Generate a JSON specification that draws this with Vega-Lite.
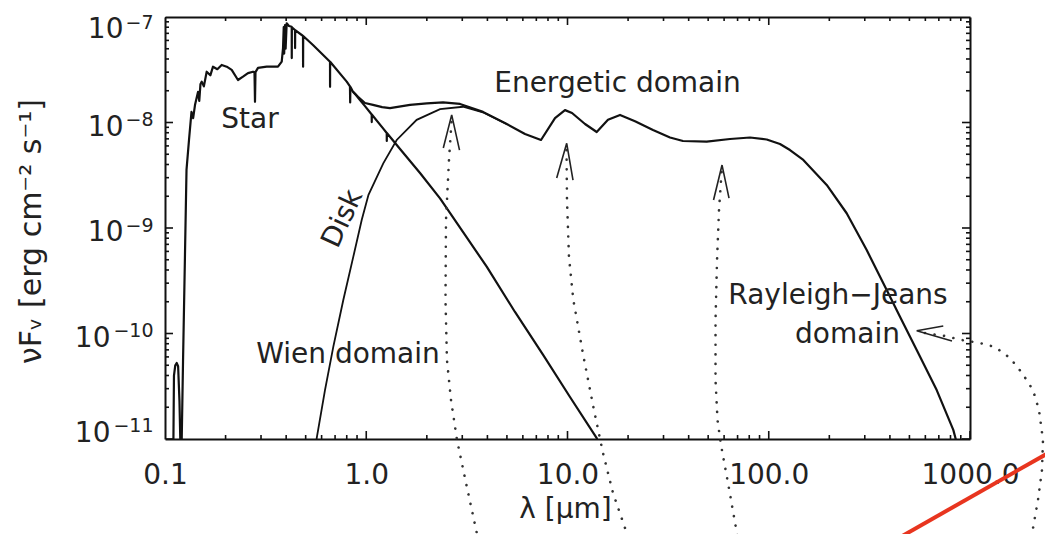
{
  "$schema": "https://vega.github.io/schema/vega-lite/v6.json",
  "autosize": "none",
  "width": 805,
  "height": 422,
  "padding": {"left": 165, "top": 17, "right": 75, "bottom": 95},
  "background": "white",
  "config": {
    "view": {"stroke": null},
    "axis": {"grid": false, "domainColor": "#111", "tickColor": "#111", "labelColor": "#222", "titleColor": "#222",
             "labelFont": "DejaVu Sans", "titleFont": "DejaVu Sans", "titleFontWeight": "normal", "labelFontSize": 28, "titleFontSize": 28,
             "labelOverlap": false, "labelBound": false, "labelFlush": false, "tickWidth": 1.6, "domainWidth": 2}
  },
  "datasets": {
    "curves": [
      {"s":"star","i":1,"x":0.1090,"y":1e-12},{"s":"star","i":2,"x":0.1108,"y":3.98e-11},{"s":"star","i":3,"x":0.1125,"y":5.0e-11},
      {"s":"star","i":4,"x":0.1143,"y":5.25e-11},{"s":"star","i":5,"x":0.1162,"y":4.9e-11},{"s":"star","i":6,"x":0.1180,"y":2.3e-11},
      {"s":"star","i":7,"x":0.1191,"y":1.0e-11},{"s":"star","i":8,"x":0.1200,"y":1e-13},{"s":"star","i":9,"x":0.1211,"y":1.0e-11},
      {"s":"star","i":10,"x":0.1229,"y":5.4e-11},{"s":"star","i":11,"x":0.1256,"y":5.2e-10},{"s":"star","i":12,"x":0.1279,"y":3.55e-9},
      {"s":"star","i":13,"x":0.1316,"y":6.83e-9},{"s":"star","i":14,"x":0.1354,"y":1.26e-8},{"s":"star","i":15,"x":0.1380,"y":1.1e-8},
      {"s":"star","i":16,"x":0.1410,"y":1.47e-8},{"s":"star","i":17,"x":0.1459,"y":1.95e-8},{"s":"star","i":18,"x":0.1480,"y":1.6e-8},
      {"s":"star","i":19,"x":0.1500,"y":2.3e-8},{"s":"star","i":20,"x":0.1522,"y":2.44e-8},{"s":"star","i":21,"x":0.1560,"y":2.2e-8},
      {"s":"star","i":22,"x":0.1611,"y":3.03e-8},{"s":"star","i":23,"x":0.1680,"y":2.8e-8},{"s":"star","i":24,"x":0.1732,"y":3.38e-8},
      {"s":"star","i":25,"x":0.1820,"y":3.2e-8},{"s":"star","i":26,"x":0.1913,"y":3.51e-8},{"s":"star","i":27,"x":0.2026,"y":3.38e-8},
      {"s":"star","i":28,"x":0.2145,"y":3.15e-8},{"s":"star","i":29,"x":0.2305,"y":2.53e-8},{"s":"star","i":30,"x":0.2441,"y":2.72e-8},
      {"s":"star","i":31,"x":0.2585,"y":2.94e-8},{"s":"star","i":32,"x":0.2737,"y":3.03e-8},{"s":"star","i":33,"x":0.2784,"y":3.0e-8},
      {"s":"star","i":34,"x":0.2800,"y":1.57e-8},{"s":"star","i":35,"x":0.2816,"y":3.0e-8},{"s":"star","i":36,"x":0.2898,"y":3.29e-8},
      {"s":"star","i":37,"x":0.3202,"y":3.38e-8},{"s":"star","i":38,"x":0.3642,"y":3.38e-8},{"s":"star","i":39,"x":0.3802,"y":3.77e-8},
      {"s":"star","i":40,"x":0.3859,"y":5.08e-8},{"s":"star","i":41,"x":0.3890,"y":8.0e-8},{"s":"star","i":42,"x":0.3910,"y":4.5e-8},
      {"s":"star","i":43,"x":0.3947,"y":8.39e-8},{"s":"star","i":44,"x":0.3975,"y":5.0e-8},{"s":"star","i":45,"x":0.4024,"y":8.71e-8},
      {"s":"star","i":46,"x":0.4131,"y":8.22e-8},{"s":"star","i":47,"x":0.4262,"y":8.09e-8},{"s":"star","i":48,"x":0.4265,"y":4.08e-8},
      {"s":"star","i":49,"x":0.4270,"y":8.0e-8},{"s":"star","i":50,"x":0.4426,"y":7.53e-8},{"s":"star","i":51,"x":0.4430,"y":5.08e-8},
      {"s":"star","i":52,"x":0.4435,"y":7.5e-8},{"s":"star","i":53,"x":0.4779,"y":6.75e-8},{"s":"star","i":54,"x":0.4850,"y":6.61e-8},
      {"s":"star","i":55,"x":0.4855,"y":3.38e-8},{"s":"star","i":56,"x":0.4860,"y":6.6e-8},{"s":"star","i":57,"x":0.5436,"y":5.43e-8},
      {"s":"star","i":58,"x":0.6606,"y":3.77e-8},{"s":"star","i":59,"x":0.6610,"y":2.18e-8},{"s":"star","i":60,"x":0.6615,"y":3.76e-8},
      {"s":"star","i":61,"x":0.7997,"y":2.44e-8},{"s":"star","i":62,"x":0.8300,"y":2.2e-8},{"s":"star","i":63,"x":0.8320,"y":1.55e-8},
      {"s":"star","i":64,"x":0.8340,"y":2.18e-8},{"s":"star","i":65,"x":0.8594,"y":1.96e-8},{"s":"star","i":66,"x":0.8894,"y":1.82e-8},
      {"s":"star","i":67,"x":0.9308,"y":1.63e-8},{"s":"star","i":68,"x":0.9857,"y":1.43e-8},{"s":"star","i":69,"x":1.0644,"y":1.19e-8},
      {"s":"star","i":70,"x":1.0650,"y":1.01e-8},{"s":"star","i":71,"x":1.0656,"y":1.19e-8},{"s":"star","i":72,"x":1.215,"y":8.75e-9},
      {"s":"star","i":73,"x":1.264,"y":7.95e-9},{"s":"star","i":74,"x":1.265,"y":6.68e-9},{"s":"star","i":75,"x":1.266,"y":7.95e-9},
      {"s":"star","i":76,"x":1.472,"y":5.61e-9},{"s":"star","i":77,"x":1.850,"y":3.32e-9},{"s":"star","i":78,"x":2.326,"y":1.91e-9},
      {"s":"star","i":79,"x":3.095,"y":8.59e-10},{"s":"star","i":80,"x":3.968,"y":4.30e-10},{"s":"star","i":81,"x":5.484,"y":1.60e-10},
      {"s":"star","i":82,"x":7.58,"y":6.25e-11},{"s":"star","i":83,"x":10.29,"y":2.50e-11},{"s":"star","i":84,"x":13.97,"y":1.02e-11},
      {"s":"star","i":85,"x":14.5,"y":8e-12},
      {"s":"total","i":1,"x":0.8594,"y":1.96e-8},{"s":"total","i":2,"x":0.9099,"y":1.75e-8},{"s":"total","i":3,"x":0.9857,"y":1.53e-8},
      {"s":"total","i":4,"x":1.080,"y":1.47e-8},{"s":"total","i":5,"x":1.200,"y":1.40e-8},{"s":"total","i":6,"x":1.312,"y":1.37e-8},
      {"s":"total","i":7,"x":1.650,"y":1.47e-8},{"s":"total","i":8,"x":2.000,"y":1.52e-8},{"s":"total","i":9,"x":2.407,"y":1.55e-8},
      {"s":"total","i":10,"x":2.923,"y":1.50e-8},{"s":"total","i":11,"x":3.803,"y":1.26e-8},{"s":"total","i":12,"x":4.988,"y":9.68e-9},
      {"s":"total","i":13,"x":6.150,"y":7.78e-9},{"s":"total","i":14,"x":7.385,"y":6.83e-9},{"s":"total","i":15,"x":8.668,"y":1.10e-8},
      {"s":"total","i":16,"x":9.718,"y":1.31e-8},{"s":"total","i":17,"x":10.53,"y":1.23e-8},{"s":"total","i":18,"x":12.22,"y":9.68e-9},
      {"s":"total","i":19,"x":13.97,"y":8.13e-9},{"s":"total","i":20,"x":15.89,"y":1.06e-8},{"s":"total","i":21,"x":18.24,"y":1.18e-8},
      {"s":"total","i":22,"x":21.65,"y":1.03e-8},{"s":"total","i":23,"x":26.60,"y":8.49e-9},{"s":"total","i":24,"x":32.31,"y":7.21e-9},
      {"s":"total","i":25,"x":37.48,"y":6.68e-9},{"s":"total","i":26,"x":49.17,"y":6.58e-9},{"s":"total","i":27,"x":64.2,"y":6.98e-9},
      {"s":"total","i":28,"x":80.7,"y":7.21e-9},{"s":"total","i":29,"x":97.7,"y":6.90e-9},{"s":"total","i":30,"x":113.7,"y":6.25e-9},
      {"s":"total","i":31,"x":127.5,"y":5.48e-9},{"s":"total","i":32,"x":148.5,"y":4.42e-9},{"s":"total","i":33,"x":194.1,"y":2.56e-9},
      {"s":"total","i":34,"x":243.9,"y":1.38e-9},{"s":"total","i":35,"x":306.7,"y":6.18e-10},{"s":"total","i":36,"x":385.6,"y":2.58e-10},
      {"s":"total","i":37,"x":448.9,"y":1.44e-10},{"s":"total","i":38,"x":543.5,"y":6.98e-11},{"s":"total","i":39,"x":683.2,"y":2.91e-11},
      {"s":"total","i":40,"x":826.0,"y":1.22e-11},{"s":"total","i":41,"x":861.7,"y":9e-12}
    ],
    "disk": [
      {"i":1,"x":0.5596,"y":8e-12},{"i":2,"x":0.5674,"y":1.02e-11},{"i":3,"x":0.6237,"y":2.91e-11},{"i":4,"x":0.6862,"y":7.50e-11},
      {"i":5,"x":0.7691,"y":2.08e-10},{"i":6,"x":0.8625,"y":5.35e-10},{"i":7,"x":0.9493,"y":1.19e-9},{"i":8,"x":1.026,"y":2.06e-9},
      {"i":9,"x":1.215,"y":4.10e-9},{"i":10,"x":1.417,"y":6.83e-9},{"i":11,"x":1.781,"y":1.06e-8},{"i":12,"x":2.326,"y":1.34e-8},
      {"i":13,"x":3.025,"y":1.41e-8},{"i":14,"x":3.803,"y":1.25e-8},{"i":15,"x":4.988,"y":9.68e-9}
    ],
    "dots": [
      {"a":"a1","i":1,"x":2.652,"y":1.01e-8},{"a":"a1","i":2,"x":2.577,"y":4.42e-9},{"a":"a1","i":3,"x":2.490,"y":1.19e-9},
      {"a":"a1","i":4,"x":2.476,"y":2.08e-10},{"a":"a1","i":5,"x":2.518,"y":5.61e-11},{"a":"a1","i":6,"x":2.637,"y":2.34e-11},
      {"a":"a1","i":7,"x":2.824,"y":9.80e-12},{"a":"a1","i":8,"x":3.131,"y":3.83e-12},{"a":"a1","i":9,"x":3.550,"y":1.26e-12},
      {"a":"a1","i":10,"x":3.632,"y":9.9e-13},
      {"a":"a2","i":1,"x":9.886,"y":5.48e-9},{"a":"a2","i":2,"x":9.943,"y":1.84e-9},{"a":"a2","i":3,"x":10.17,"y":5.31e-10},
      {"a":"a2","i":4,"x":10.69,"y":2.08e-10},{"a":"a2","i":5,"x":11.94,"y":6.40e-11},{"a":"a2","i":6,"x":13.54,"y":1.88e-11},
      {"a":"a2","i":7,"x":15.01,"y":7.36e-12},{"a":"a2","i":8,"x":16.83,"y":3.08e-12},{"a":"a2","i":9,"x":19.76,"y":1.26e-12},
      {"a":"a2","i":10,"x":20.68,"y":9.9e-13},
      {"a":"a3","i":1,"x":58.3,"y":3.39e-9},{"a":"a3","i":2,"x":56.6,"y":1.48e-9},{"a":"a3","i":3,"x":55.34,"y":4.98e-10},
      {"a":"a3","i":4,"x":54.39,"y":1.34e-10},{"a":"a3","i":5,"x":54.39,"y":3.62e-11},{"a":"a3","i":6,"x":55.65,"y":1.51e-11},
      {"a":"a3","i":7,"x":57.91,"y":8.77e-12},{"a":"a3","i":8,"x":62.74,"y":3.83e-12},{"a":"a3","i":9,"x":69.55,"y":1.26e-12},
      {"a":"a3","i":10,"x":71.97,"y":9.9e-13},
      {"a":"a4","i":1,"x":597.6,"y":1.01e-10},{"a":"a4","i":2,"x":751.1,"y":9.46e-11},{"a":"a4","i":3,"x":912.5,"y":8.67e-11},
      {"a":"a4","i":4,"x":1121,"y":8.12e-11},{"a":"a4","i":5,"x":1331,"y":7.45e-11},{"a":"a4","i":6,"x":1581,"y":5.86e-11},
      {"a":"a4","i":7,"x":1813,"y":4.23e-11},{"a":"a4","i":8,"x":2056,"y":2.91e-11},{"a":"a4","i":9,"x":2202,"y":1.88e-11},
      {"a":"a4","i":10,"x":2305,"y":9.80e-12},{"a":"a4","i":11,"x":2279,"y":5.08e-12},{"a":"a4","i":12,"x":2177,"y":2.64e-12},
      {"a":"a4","i":13,"x":2033,"y":1.26e-12},{"a":"a4","i":14,"x":1990,"y":9.9e-13}
    ],
    "heads": [
      {"a":"h1","i":1,"x":2.415,"y":5.73e-9},{"a":"h1","i":2,"x":2.658,"y":1.18e-8},{"a":"h1","i":3,"x":2.907,"y":5.48e-9},
      {"a":"h2","i":1,"x":8.837,"y":2.98e-9},{"a":"h2","i":2,"x":9.909,"y":6.35e-9},{"a":"h2","i":3,"x":10.65,"y":2.85e-9},
      {"a":"h3","i":1,"x":53.17,"y":1.84e-9},{"a":"h3","i":2,"x":58.6,"y":3.95e-9},{"a":"h3","i":3,"x":63.47,"y":1.92e-9},
      {"a":"h4","i":1,"x":736.6,"y":1.18e-10},{"a":"h4","i":2,"x":543.5,"y":1.06e-10},{"a":"h4","i":3,"x":813.9,"y":8.49e-11}
    ],
    "red": [
      {"i":1,"x":424.0,"y":1.10e-12},{"i":2,"x":2497,"y":7.53e-12}
    ],
    "labels": [
      {"t":"Star","x":0.2645,"y":8.81e-9},
      {"t":"Energetic domain","x":17.72,"y":1.96e-8},
      {"t":"Wien domain","x":0.8114,"y":5.25e-11},
      {"t":"Rayleigh−Jeans","x":220.9,"y":1.91e-10},
      {"t":"domain","x":246.2,"y":8.07e-11}
    ],
    "disklabel": [
      {"t":"Disk","x":0.7665,"y":1.22e-9}
    ],
    "xticks": [
      {"v":0.1,"k":"major"},{"v":1,"k":"major"},{"v":10,"k":"major"},{"v":100,"k":"major"},{"v":1000,"k":"major"},
      {"v":0.2,"k":"minor"},{"v":0.3,"k":"minor"},{"v":0.4,"k":"minor"},{"v":0.5,"k":"minor"},{"v":0.6,"k":"minor"},{"v":0.7,"k":"minor"},{"v":0.8,"k":"minor"},{"v":0.9,"k":"minor"},
      {"v":2,"k":"minor"},{"v":3,"k":"minor"},{"v":4,"k":"minor"},{"v":5,"k":"minor"},{"v":6,"k":"minor"},{"v":7,"k":"minor"},{"v":8,"k":"minor"},{"v":9,"k":"minor"},
      {"v":20,"k":"minor"},{"v":30,"k":"minor"},{"v":40,"k":"minor"},{"v":50,"k":"minor"},{"v":60,"k":"minor"},{"v":70,"k":"minor"},{"v":80,"k":"minor"},{"v":90,"k":"minor"},
      {"v":200,"k":"minor"},{"v":300,"k":"minor"},{"v":400,"k":"minor"},{"v":500,"k":"minor"},{"v":600,"k":"minor"},{"v":700,"k":"minor"},{"v":800,"k":"minor"},{"v":900,"k":"minor"}
    ],
    "yticks": [
      {"v":1e-11,"k":"major"},{"v":1e-10,"k":"major"},{"v":1e-9,"k":"major"},{"v":1e-8,"k":"major"},{"v":1e-7,"k":"major"},
      {"v":2e-11,"k":"minor"},{"v":3e-11,"k":"minor"},{"v":4e-11,"k":"minor"},{"v":5e-11,"k":"minor"},{"v":6e-11,"k":"minor"},{"v":7e-11,"k":"minor"},{"v":8e-11,"k":"minor"},{"v":9e-11,"k":"minor"},
      {"v":2e-10,"k":"minor"},{"v":3e-10,"k":"minor"},{"v":4e-10,"k":"minor"},{"v":5e-10,"k":"minor"},{"v":6e-10,"k":"minor"},{"v":7e-10,"k":"minor"},{"v":8e-10,"k":"minor"},{"v":9e-10,"k":"minor"},
      {"v":2e-9,"k":"minor"},{"v":3e-9,"k":"minor"},{"v":4e-9,"k":"minor"},{"v":5e-9,"k":"minor"},{"v":6e-9,"k":"minor"},{"v":7e-9,"k":"minor"},{"v":8e-9,"k":"minor"},{"v":9e-9,"k":"minor"},
      {"v":2e-8,"k":"minor"},{"v":3e-8,"k":"minor"},{"v":4e-8,"k":"minor"},{"v":5e-8,"k":"minor"},{"v":6e-8,"k":"minor"},{"v":7e-8,"k":"minor"},{"v":8e-8,"k":"minor"},{"v":9e-8,"k":"minor"}
    ]
  },
  "resolve": {"axis": {"x": "independent", "y": "independent"}},
  "layer": [
    {
      "data": {"name": "curves"},
      "mark": {"type": "line", "color": "#111", "strokeWidth": 2.2, "clip": true, "strokeJoin": "round"},
      "encoding": {
        "x": {"field": "x", "type": "quantitative", "scale": {"type": "log", "domain": [0.1, 1000], "nice": false},
              "axis": {"orient": "bottom", "values": [0.1, 1, 10, 100, 1000], "ticks": false, "tickSize": 0, "domain": true,
                       "labelExpr": "datum.value < 0.5 ? '0.1' : datum.value < 5 ? '1.0' : datum.value < 50 ? '10.0' : datum.value < 500 ? '100.0' : '1000.0'",
                       "labelBaseline": "alphabetic", "labelPadding": 44, "labelAlign": "center",
                       "title": "λ [μm]", "titleX": 400, "titleY": 78, "titleBaseline": "alphabetic", "titleAlign": "center"}},
        "y": {"field": "y", "type": "quantitative", "scale": {"type": "log", "domain": [1e-11, 1e-7], "nice": false},
              "axis": {"orient": "left", "values": [1e-11, 1e-10, 1e-9, 1e-8, 1e-7], "ticks": false, "tickSize": 0, "domain": true,
                       "labelExpr": "'10'", "labelBaseline": "middle", "labelAlign": "right",
                       "labelPadding": {"condition": {"test": "datum.value < 5e-10", "value": 55}, "value": 42},
                       "labelOffset": {"condition": [{"test": "datum.value > 5e-8", "value": 12.6}, {"test": "datum.value < 5e-11", "value": -6}], "value": 4.5},
                       "title": "νFᵥ [erg cm⁻² s⁻¹]", "titleFontSize": 30, "titleX": -125, "titleY": 214, "titleAngle": -90, "titleBaseline": "alphabetic", "titleAlign": "center"}},
        "detail": {"field": "s"},
        "order": {"field": "i", "type": "quantitative"}
      }
    },
    {
      "data": {"name": "disk"},
      "mark": {"type": "line", "color": "#111", "strokeWidth": 1.8, "clip": true},
      "encoding": {
        "x": {"field": "x", "type": "quantitative", "scale": {"type": "log", "domain": [0.1, 1000], "nice": false}, "axis": null},
        "y": {"field": "y", "type": "quantitative", "scale": {"type": "log", "domain": [1e-11, 1e-7], "nice": false}, "axis": null},
        "order": {"field": "i", "type": "quantitative"}
      }
    },
    {
      "data": {"name": "dots"},
      "mark": {"type": "line", "color": "#333", "strokeWidth": 2.6, "strokeDash": [0.1, 9.5], "strokeCap": "round", "clip": false},
      "encoding": {
        "x": {"field": "x", "type": "quantitative", "scale": {"type": "log", "domain": [0.1, 1000], "nice": false}, "axis": null},
        "y": {"field": "y", "type": "quantitative", "scale": {"type": "log", "domain": [1e-11, 1e-7], "nice": false}, "axis": null},
        "detail": {"field": "a"},
        "order": {"field": "i", "type": "quantitative"}
      }
    },
    {
      "data": {"name": "heads"},
      "mark": {"type": "line", "color": "#222", "strokeWidth": 1.6, "clip": false},
      "encoding": {
        "x": {"field": "x", "type": "quantitative", "scale": {"type": "log", "domain": [0.1, 1000], "nice": false},
              "axis": {"orient": "bottom", "offset": -422, "ticks": false, "labels": false, "domain": true, "title": null}},
        "y": {"field": "y", "type": "quantitative", "scale": {"type": "log", "domain": [1e-11, 1e-7], "nice": false},
              "axis": {"orient": "left", "offset": -805, "ticks": false, "labels": false, "domain": true, "title": null}},
        "detail": {"field": "a"},
        "order": {"field": "i", "type": "quantitative"}
      }
    },
    {
      "data": {"name": "red"},
      "mark": {"type": "line", "color": "#e8351f", "strokeWidth": 4, "clip": false},
      "encoding": {
        "x": {"field": "x", "type": "quantitative", "scale": {"type": "log", "domain": [0.1, 1000], "nice": false}, "axis": null},
        "y": {"field": "y", "type": "quantitative", "scale": {"type": "log", "domain": [1e-11, 1e-7], "nice": false}, "axis": null},
        "order": {"field": "i", "type": "quantitative"}
      }
    },
    {
      "data": {"name": "xticks"},
      "mark": {"type": "tick", "orient": "vertical", "color": "#111", "thickness": 1.6, "clip": true, "opacity": 1},
      "encoding": {
        "x": {"field": "v", "type": "quantitative", "scale": {"type": "log", "domain": [0.1, 1000], "nice": false}, "axis": null},
        "y": {"datum": 1e-11, "type": "quantitative", "scale": {"type": "log", "domain": [1e-11, 1e-7], "nice": false}, "axis": null},
        "size": {"field": "k", "type": "nominal", "scale": {"domain": ["major", "minor"], "range": [16, 8]}, "legend": null}
      }
    },
    {
      "data": {"name": "xticks"},
      "mark": {"type": "tick", "orient": "vertical", "color": "#111", "thickness": 1.6, "clip": true, "opacity": 1},
      "encoding": {
        "x": {"field": "v", "type": "quantitative", "scale": {"type": "log", "domain": [0.1, 1000], "nice": false}, "axis": null},
        "y": {"datum": 1e-7, "type": "quantitative", "scale": {"type": "log", "domain": [1e-11, 1e-7], "nice": false}, "axis": null},
        "size": {"field": "k", "type": "nominal", "scale": {"domain": ["major", "minor"], "range": [16, 8]}, "legend": null}
      }
    },
    {
      "data": {"name": "yticks"},
      "mark": {"type": "tick", "orient": "horizontal", "color": "#111", "thickness": 1.6, "clip": true, "opacity": 1},
      "encoding": {
        "x": {"datum": 0.1, "type": "quantitative", "scale": {"type": "log", "domain": [0.1, 1000], "nice": false}, "axis": null},
        "y": {"field": "v", "type": "quantitative", "scale": {"type": "log", "domain": [1e-11, 1e-7], "nice": false}, "axis": null},
        "size": {"field": "k", "type": "nominal", "scale": {"domain": ["major", "minor"], "range": [30, 15]}, "legend": null}
      }
    },
    {
      "data": {"name": "yticks"},
      "mark": {"type": "tick", "orient": "horizontal", "color": "#111", "thickness": 1.6, "clip": true, "opacity": 1},
      "encoding": {
        "x": {"datum": 1000, "type": "quantitative", "scale": {"type": "log", "domain": [0.1, 1000], "nice": false}, "axis": null},
        "y": {"field": "v", "type": "quantitative", "scale": {"type": "log", "domain": [1e-11, 1e-7], "nice": false}, "axis": null},
        "size": {"field": "k", "type": "nominal", "scale": {"domain": ["major", "minor"], "range": [30, 15]}, "legend": null}
      }
    },
    {
      "data": {"name": "labels"},
      "mark": {"type": "text", "font": "DejaVu Sans", "fontSize": 28, "color": "#222", "align": "center", "baseline": "alphabetic"},
      "encoding": {
        "x": {"field": "x", "type": "quantitative", "scale": {"type": "log", "domain": [0.1, 1000], "nice": false}, "axis": null},
        "y": {"field": "y", "type": "quantitative", "scale": {"type": "log", "domain": [1e-11, 1e-7], "nice": false},
              "axis": {"orient": "left", "values": [1e-11, 1e-10, 1e-9, 1e-8, 1e-7], "ticks": false, "tickSize": 0, "domain": false, "title": null,
                       "labelExpr": "'−' + round(-log(datum.value)/LN10)", "labelFont": "DejaVu Sans", "labelFontSize": 19, "labelPadding": 12, "labelBaseline": "middle", "labelAlign": "right",
                       "labelOffset": {"condition": [{"test": "datum.value > 5e-8", "value": 5.5}, {"test": "datum.value < 5e-11", "value": -14}], "value": -3}}},
        "text": {"field": "t"}
      }
    },
    {
      "data": {"name": "disklabel"},
      "mark": {"type": "text", "font": "DejaVu Sans", "fontSize": 28, "color": "#222", "align": "center", "baseline": "middle", "angle": -65},
      "encoding": {
        "x": {"field": "x", "type": "quantitative", "scale": {"type": "log", "domain": [0.1, 1000], "nice": false}, "axis": null},
        "y": {"field": "y", "type": "quantitative", "scale": {"type": "log", "domain": [1e-11, 1e-7], "nice": false}, "axis": null},
        "text": {"field": "t"}
      }
    }
  ]
}
